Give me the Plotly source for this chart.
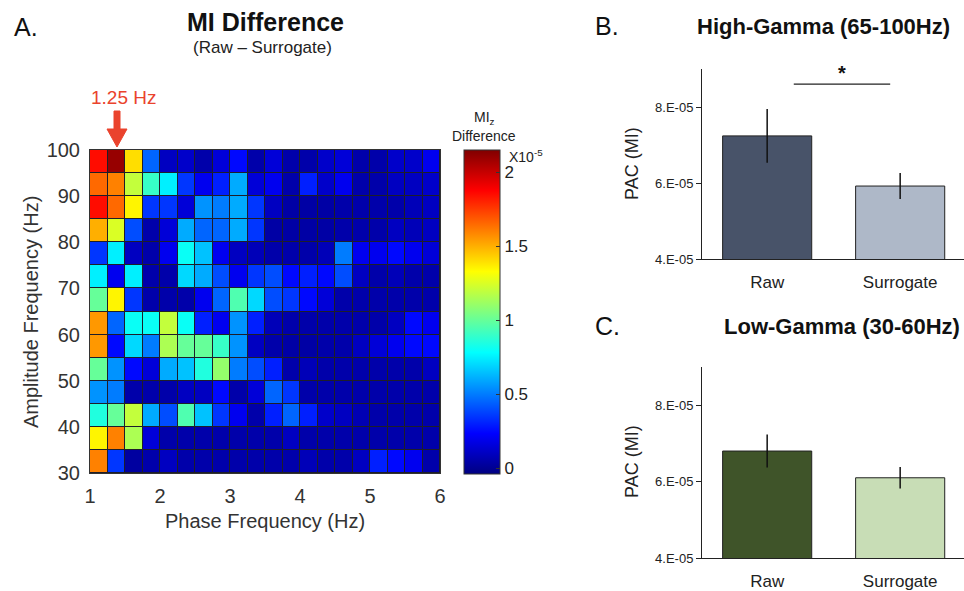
import plotly.graph_objects as go

W, H = 964, 591
def PX(x): return x / W
def PY(y): return 1 - y / H

# ---------------- data ----------------
phase_freqs = [1.125 + 0.25 * i for i in range(20)]          # column centres (Hz)
amp_freqs = [97.5, 92.5, 87.5, 82.5, 77.5, 72.5, 67.5, 62.5, 57.5, 52.5, 47.5, 42.5, 37.5, 32.5]
phase_ticks = [1, 2, 3, 4, 5, 6]
amp_ticks = [30, 40, 50, 60, 70, 80, 90, 100]

mi_diff = [
    [1.85, 2.10, 1.40, 0.45, 0.10, 0.12, 0.05, 0.15, 0.25, 0.05, 0.15, 0.05, 0.05, 0.12, 0.15, 0.05, 0.05, 0.12, 0.12, 0.20],
    [1.65, 1.60, 1.20, 0.90, 0.75, 0.35, 0.20, 0.30, 0.60, 0.15, 0.20, 0.05, 0.30, 0.12, 0.20, 0.05, 0.05, 0.10, 0.10, 0.12],
    [1.85, 1.65, 1.35, 0.35, 0.35, 0.15, 0.55, 0.50, 0.60, 0.35, 0.10, 0.04, 0.04, 0.04, 0.05, 0.05, 0.05, 0.05, 0.08, 0.10],
    [1.50, 1.25, 0.40, 0.05, 0.15, 0.60, 0.45, 0.45, 0.60, 0.35, 0.04, 0.04, 0.04, 0.04, 0.05, 0.05, 0.05, 0.10, 0.08, 0.10],
    [0.35, 0.75, 0.10, 0.05, 0.20, 0.80, 0.65, 0.20, 0.10, 0.08, 0.05, 0.05, 0.05, 0.08, 0.50, 0.20, 0.20, 0.25, 0.20, 0.15],
    [0.75, 0.20, 0.75, 0.05, 0.05, 0.70, 0.60, 0.40, 0.20, 0.35, 0.40, 0.25, 0.30, 0.25, 0.40, 0.10, 0.05, 0.08, 0.05, 0.05],
    [1.00, 1.35, 0.35, 0.05, 0.05, 0.05, 0.20, 0.45, 0.95, 0.70, 0.40, 0.35, 0.25, 0.15, 0.05, 0.05, 0.05, 0.05, 0.05, 0.05],
    [1.55, 0.45, 0.80, 0.80, 1.20, 0.80, 0.30, 0.20, 0.55, 0.30, 0.08, 0.05, 0.05, 0.05, 0.05, 0.05, 0.05, 0.10, 0.25, 0.20],
    [1.55, 0.25, 0.70, 0.50, 1.15, 1.00, 1.00, 0.90, 0.55, 0.10, 0.05, 0.04, 0.04, 0.05, 0.05, 0.10, 0.15, 0.20, 0.25, 0.25],
    [1.00, 0.55, 0.25, 0.15, 0.60, 0.65, 0.85, 1.10, 0.50, 0.40, 0.30, 0.05, 0.08, 0.05, 0.05, 0.05, 0.05, 0.05, 0.05, 0.10],
    [0.55, 0.50, 0.05, 0.05, 0.05, 0.10, 0.10, 0.25, 0.05, 0.15, 0.45, 0.35, 0.05, 0.05, 0.05, 0.05, 0.05, 0.05, 0.05, 0.05],
    [0.85, 1.00, 1.20, 0.60, 0.40, 0.95, 0.65, 0.35, 0.20, 0.05, 0.30, 0.45, 0.30, 0.12, 0.10, 0.07, 0.05, 0.05, 0.05, 0.05],
    [1.35, 1.60, 1.15, 0.15, 0.05, 0.05, 0.05, 0.05, 0.05, 0.05, 0.05, 0.10, 0.05, 0.05, 0.05, 0.05, 0.05, 0.05, 0.05, 0.05],
    [1.60, 0.35, 0.03, 0.05, 0.10, 0.05, 0.05, 0.05, 0.05, 0.05, 0.05, 0.05, 0.08, 0.05, 0.05, 0.10, 0.30, 0.25, 0.20, 0.05],
]
cbar_ticks = [0, 0.5, 1, 1.5, 2]

conditions = ["Raw", "Surrogate"]
high_gamma_mean = [7.24e-05, 5.92e-05]
high_gamma_err = [0.71e-05, 0.34e-05]
low_gamma_mean = [6.80e-05, 6.10e-05]
low_gamma_err = [0.43e-05, 0.28e-05]
pac_ticks = [4e-05, 6e-05, 8e-05]
pac_ticktext = ["4.E-05", "6.E-05", "8.E-05"]

# ---------------- styling ----------------
FONT = "Liberation Sans, Arial, Helvetica, sans-serif"
jet = [[0, "rgb(0,0,128)"], [0.125, "rgb(0,0,255)"], [0.375, "rgb(0,255,255)"],
       [0.625, "rgb(255,255,0)"], [0.875, "rgb(255,0,0)"], [1, "rgb(128,0,0)"]]
RED = "rgb(234,67,45)"

fig = go.Figure()

fig.add_trace(go.Heatmap(
    x=phase_freqs, y=amp_freqs, z=mi_diff, colorscale=jet, zmin=-0.04, zmax=2.15,
    xgap=1, ygap=1, xaxis="x", yaxis="y",
    colorbar=dict(x=PX(464), xanchor="left", y=(PY(150) + PY(474)) / 2, yanchor="middle",
                  len=(474 - 150) / H, lenmode="fraction", thickness=36, thicknessmode="pixels",
                  xpad=0, ypad=0,
                  outlinewidth=1, outlinecolor="#333", tickvals=cbar_ticks,
                  ticktext=["0", "0.5", "1", "1.5", "2"], ticks="inside", ticklen=4,
                  tickcolor="#333", tickfont=dict(size=17, color="#222", family=FONT)),
    hoverinfo="skip",
))

fig.add_trace(go.Bar(
    x=conditions, y=high_gamma_mean, xaxis="x2", yaxis="y2", width=0.67,
    marker=dict(color=["#485369", "#aeb8c8"], line=dict(color="#222", width=1)),
    error_y=dict(type="data", array=high_gamma_err, color="#111", thickness=1.5, width=0),
    showlegend=False,
))
fig.add_trace(go.Bar(
    x=conditions, y=low_gamma_mean, xaxis="x3", yaxis="y3", width=0.67,
    marker=dict(color=["#3f5429", "#c8ddb6"], line=dict(color="#222", width=1)),
    error_y=dict(type="data", array=low_gamma_err, color="#111", thickness=1.5, width=0),
    showlegend=False,
))

tickfont_hm = dict(size=20, color="#333", family=FONT)
bar_x = dict(type="category", range=[-0.49, 1.48], showline=True, linecolor="#222", linewidth=1,
             ticks="outside", ticklen=8, tickcolor="rgba(0,0,0,0)",
             tickfont=dict(size=17, color="#222", family=FONT), showgrid=False, zeroline=False)
bar_y = dict(range=[4e-05, 9e-05], tickvals=pac_ticks, ticktext=pac_ticktext, showline=True,
             linecolor="#222", linewidth=1, ticks="outside", ticklen=5, tickcolor="#222",
             tickfont=dict(size=13, color="#222", family=FONT), showgrid=False, zeroline=False)

fig.update_layout(
    width=W, height=H, margin=dict(l=0, r=0, t=0, b=0, autoexpand=False),
    paper_bgcolor="white", plot_bgcolor="white", showlegend=False,
    font=dict(family=FONT, color="#222"),
    xaxis=dict(domain=[PX(90), PX(440)], range=[1, 6], tickvals=phase_ticks, showline=True,
               mirror=True, linecolor="#333", linewidth=1, ticks="outside", ticklen=5,
               tickcolor="rgba(0,0,0,0)", tickfont=tickfont_hm, showgrid=False, zeroline=False),
    yaxis=dict(domain=[PY(473), PY(150)], range=[30, 100], tickvals=amp_ticks, showline=True,
               mirror=True, linecolor="#333", linewidth=1, ticks="outside", ticklen=5,
               tickcolor="rgba(0,0,0,0)", tickfont=tickfont_hm, showgrid=False, zeroline=False),
    xaxis2=dict(domain=[PX(702), 1.0], anchor="y2", **bar_x),
    yaxis2=dict(domain=[PY(259), PY(69)], anchor="x2", **bar_y),
    xaxis3=dict(domain=[PX(702), 1.0], anchor="y3", **bar_x),
    yaxis3=dict(domain=[PY(558), PY(367)], anchor="x3", **bar_y),
)

# dark background behind heatmap cells (cell borders)
fig.add_shape(type="rect", xref="x domain", yref="y domain", x0=0, x1=1, y0=0, y1=1,
              fillcolor="#1e1e2a", line=dict(width=0), layer="below")

# significance bar
fig.add_shape(type="line", xref="x2", yref="y2", x0=0.2, x1=0.925, y0=8.6e-05, y1=8.6e-05,
              line=dict(color="#222", width=1.2))

# red arrow
arrow_path = (f"M {PX(114)} {PY(111)} L {PX(120)} {PY(111)} L {PX(120)} {PY(129)} "
              f"L {PX(127)} {PY(129)} L {PX(117)} {PY(147)} L {PX(107)} {PY(129)} "
              f"L {PX(114)} {PY(129)} Z")
fig.add_shape(type="path", xref="paper", yref="paper", path=arrow_path,
              fillcolor=RED, line=dict(color=RED, width=1))

def ann(text, x, y, size, color="#222", bold=False, angle=0, xanchor="center"):
    if bold:
        text = f"<b>{text}</b>"
    fig.add_annotation(text=text, x=PX(x), y=PY(y), xref="paper", yref="paper",
                       showarrow=False, font=dict(size=size, color=color, family=FONT),
                       textangle=angle, xanchor=xanchor, yanchor="middle")

ann("A.", 12, 27, 25, "#111", xanchor="left")
ann("MI Difference", 265, 22, 25, "#111", bold=True)
ann("(Raw – Surrogate)", 262, 47, 17, "#222")
ann("1.25 Hz", 124, 98, 19, RED)
ann("MI<sub>z</sub>", 484, 118, 14, "#222")
ann("Difference", 484, 136, 14, "#222")
ann("X10<sup>-5</sup>", 507, 156, 14, "#222", xanchor="left")
ann("Amplitude Frequency (Hz)", 31, 312, 20, "#333", angle=-90)
ann("Phase Frequency (Hz)", 265, 521, 20, "#333")

ann("B.", 593, 26, 25, "#111", xanchor="left")
ann("High-Gamma (65-100Hz)", 823, 26, 22, "#111", bold=True)
ann("PAC (MI)", 632, 164, 18, "#222", angle=-90)
fig.add_annotation(text="<b>*</b>", x=0.56, y=8.9e-05, xref="x2", yref="y2", showarrow=False,
                   font=dict(size=20, color="#111", family=FONT))

ann("C.", 593, 326, 25, "#111", xanchor="left")
ann("Low-Gamma (30-60Hz)", 842, 326, 22, "#111", bold=True)
ann("PAC (MI)", 632, 462, 18, "#222", angle=-90)

fig.write_html("out.html", config={"displayModeBar": False},
               post_script="document.body.style.margin='0';document.body.style.overflow='hidden';")
